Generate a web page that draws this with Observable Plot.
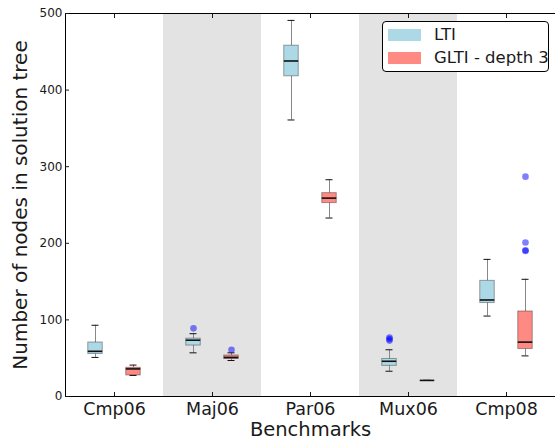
<!DOCTYPE html>
<html><head><meta charset="utf-8">
<script src="https://cdn.jsdelivr.net/npm/d3@7"></script>
<script src="https://cdn.jsdelivr.net/npm/@observablehq/plot@0.6"></script>
<style>
html,body{margin:0;padding:0;background:#fff;overflow:hidden}
#wrap{position:relative;width:555px;height:439px;overflow:hidden;font-family:"DejaVu Sans",sans-serif}
#wrap svg{max-width:none !important}
#legend{position:absolute;left:382px;top:21px;width:167px;height:51px;box-sizing:border-box;border:1px solid #000;border-radius:4px;background:#fff}
.item{position:absolute;left:5px;height:12px;display:flex;align-items:center}
.sw{width:33px;height:12px;flex:none}
.lab{margin-left:13px;font-size:16.5px;color:#1a1a1a;white-space:nowrap;line-height:12px}
</style></head><body><div id="wrap"></div><script>
const categories = ["Cmp06", "Maj06", "Par06", "Mux06", "Cmp08"];
const series = ["LTI", "GLTI - depth 3"];
const shaded = ["Maj06", "Mux06"];
const colors = ["#add8e6", "#ff8a84"];
const yTicks = [0, 100, 200, 300, 400, 500];

// LTI box statistics per category
const ltiLow    = [51, 57, 361, 33, 105];
const ltiQ1     = [55.5, 66.5, 418, 40, 122];
const ltiMedian = [59, 73.5, 438, 46, 126];
const ltiQ3     = [70.5, 75.5, 458, 49, 151];
const ltiHigh   = [93, 82, 491, 61, 179];

// GLTI - depth 3 box statistics per category
const gltiLow    = [27.5, 47, 233, 21, 53];
const gltiQ1     = [27.5, 49, 252.5, 21, 62];
const gltiMedian = [36, 51, 259, 21, 71];
const gltiQ3     = [37.5, 53.5, 265.5, 21, 111];
const gltiHigh   = [41, 57, 283, 21, 153];

// outliers
const outlierCategory = ["Maj06", "Maj06", "Mux06", "Mux06", "Mux06", "Cmp08", "Cmp08", "Cmp08", "Cmp08"];
const outlierSeries = ["LTI", "GLTI - depth 3", "LTI", "LTI", "LTI", "GLTI - depth 3", "GLTI - depth 3", "GLTI - depth 3", "GLTI - depth 3"];
const outlierValue = [89, 61, 77, 75, 73, 287, 201, 191, 190];

const boxes = [];
categories.forEach((c, i) => {
  boxes.push({category: c, series: series[0], low: ltiLow[i], q1: ltiQ1[i], median: ltiMedian[i], q3: ltiQ3[i], high: ltiHigh[i]});
  boxes.push({category: c, series: series[1], low: gltiLow[i], q1: gltiQ1[i], median: gltiMedian[i], q3: gltiQ3[i], high: gltiHigh[i]});
});
const outliers = outlierValue.map((v, i) => ({category: outlierCategory[i], series: outlierSeries[i], value: v}));

const boxInset = 11.75, capInset = 15.5;
const plot = Plot.plot({
  width: 557, height: 439,
  marginTop: 13, marginBottom: 43, marginLeft: 63, marginRight: 0,
  style: {fontFamily: "DejaVu Sans", background: "white", color: "#1a1a1a", maxWidth: "none"},
  fx: {domain: categories, paddingInner: 0, paddingOuter: 0, axis: null},
  x: {domain: series, paddingInner: 0, paddingOuter: 0.2615, axis: null},
  y: {domain: [0, 500], axis: null},
  color: {domain: series, range: colors},
  marks: [
    Plot.rect(shaded, {fx: d => d, fill: "#e3e3e3"}),
    Plot.ruleY([0, 500], {stroke: "#000"}),
    Plot.frame({anchor: "left", facetAnchor: "left", stroke: "#000"}),
    Plot.ruleX(boxes, {fx: "category", x: "series", y1: "low", y2: "q1", stroke: "#888"}),
    Plot.ruleX(boxes, {fx: "category", x: "series", y1: "q3", y2: "high", stroke: "#888"}),
    Plot.barY(boxes, {fx: "category", x: "series", y1: "q1", y2: "q3", fill: "series", stroke: "#000", strokeOpacity: 0.35, insetLeft: boxInset, insetRight: boxInset}),
    Plot.tickY(boxes, {fx: "category", x: "series", y: "low", stroke: "#111", insetLeft: capInset, insetRight: capInset}),
    Plot.tickY(boxes, {fx: "category", x: "series", y: "high", stroke: "#111", insetLeft: capInset, insetRight: capInset}),
    Plot.tickY(boxes, {fx: "category", x: "series", y: "median", stroke: "#111", strokeWidth: 1.6, insetLeft: boxInset, insetRight: boxInset}),
    Plot.dot(outliers, {fx: "category", x: "series", y: "value", r: 3.3, fill: "blue", fillOpacity: 0.5}),
    Plot.axisY({ticks: yTicks, anchor: "left", tickSize: -4, tickPadding: 7, fontSize: 12, label: null}),
    Plot.axisY({ticks: [], anchor: "left", fontSize: 20, label: "Number of nodes in solution tree", labelAnchor: "center", labelOffset: 53, labelArrow: "none"}),
    Plot.axisFx({anchor: "bottom", tickSize: -4, tickPadding: 10, fontSize: 17.5, label: null}),
    Plot.axisFx({anchor: "top", tickSize: -4, tickFormat: () => "", label: null}),
    Plot.axisFx({ticks: [], anchor: "bottom", fontSize: 19.5, label: "Benchmarks", labelAnchor: "center", labelOffset: 39})
  ]
});
const wrap = document.getElementById("wrap");
wrap.appendChild(plot);
const legend = document.createElement("div");
legend.id = "legend";
series.forEach((s, i) => {
  const item = document.createElement("div");
  item.className = "item";
  item.style.top = (6.5 + i * 23.3) + "px";
  item.innerHTML = `<div class="sw" style="background:${colors[i]}"></div><div class="lab">${s}</div>`;
  legend.appendChild(item);
});
wrap.appendChild(legend);
</script></body></html>
